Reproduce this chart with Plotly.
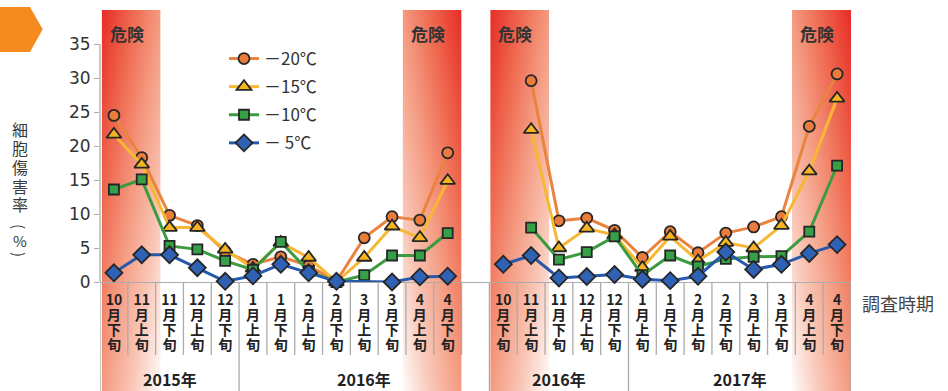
import base64
import plotly.graph_objects as go

# ---- data -------------------------------------------------------------
periods = ["10月下旬", "11月上旬", "11月下旬", "12月上旬", "12月下旬",
           "1月上旬", "1月下旬", "2月上旬", "2月下旬", "3月上旬",
           "3月下旬", "4月上旬", "4月下旬"]

series_names = ["－20℃", "－15℃", "－10℃", "－ 5℃"]

# 2015-2016 season
m20_a = [24.5, 18.3, 9.8, 8.3, 4.5, 2.6, 3.7, 2.4, 0.1, 6.5, 9.6, 9.1, 19.0]
m15_a = [21.7, 17.3, 8.0, 8.0, 4.8, 2.0, 5.8, 3.6, 0.0, 3.6, 8.2, 6.5, 14.9]
m10_a = [13.6, 15.1, 5.3, 4.8, 3.1, 1.8, 5.9, 1.6, 0.0, 1.0, 3.9, 3.9, 7.2]
m5_a = [1.35, 4.0, 4.0, 2.1, 0.1, 0.9, 2.6, 1.35, 0.1, None, 0.0, 0.75, 0.85]

# 2016-2017 season
m20_b = [None, 29.6, 9.0, 9.4, 7.6, 3.6, 7.4, 4.3, 7.2, 8.1, 9.6, 22.9, 30.6]
m15_b = [None, 22.4, 5.0, 7.9, 6.9, 2.1, 6.7, 3.1, 5.8, 5.0, 8.3, 16.3, 27.0]
m10_b = [None, 8.0, 3.3, 4.4, 6.7, 1.0, 3.9, 2.3, 3.4, 3.7, 3.8, 7.4, 17.1]
m5_b = [2.6, 3.9, 0.6, 0.8, 1.1, 0.4, 0.2, 0.85, 4.4, 1.85, 2.6, 4.2, 5.5]

year_labels = ["2015年", "2016年", "2016年", "2017年"]
y_ticks = [0, 5, 10, 15, 20, 25, 30, 35]

# ---- geometry ---------------------------------------------------------
W, H = 948, 391
ML, MR, MT, MB = 100, 97, 10, 109
PW, PH = W - ML - MR, H - MT - MB
AXIS_Y = H - MB


def paper_x(px):
    return (px - ML) / PW


def paper_y(py):
    return (AXIS_Y - py) / PH


BOTTOM = paper_y(H)
CELL_BOTTOM = paper_y(355)

# two seasons share one axis, separated by an empty slot
x_a = list(range(len(periods)))
x_b = [len(periods) + 1 + i for i in range(len(periods))]
n_slots = len(periods) * 2 + 1

tick_vals = x_a + x_b
tick_text = []
for p in periods + periods:
    parts = [p[:-3], p[-3], p[-2], p[-1]]
    tick_text.append("<br>".join(
        "<span style='font-size:14px'>%s</span>" % s for s in parts))

styles = [
    dict(line="#e8843f", fill="#ea7d3c", symbol="circle", size=11),
    dict(line="#f7b733", fill="#f6b420", symbol="triangle-up", size=13),
    dict(line="#3c9a41", fill="#35a047", symbol="square", size=10),
    dict(line="#2659ab", fill="#2f62b5", symbol="diamond", size=13),
]
season_values = [(m20_a, m20_b), (m15_a, m15_b), (m10_a, m10_b), (m5_a, m5_b)]

fig = go.Figure()
for name, st, (va, vb) in zip(series_names, styles, season_values):
    for k, (xs, ys) in enumerate(((x_a, va), (x_b, vb))):
        fig.add_trace(go.Scatter(
            x=xs, y=ys, name=name, legendgroup=name, showlegend=(k == 0),
            mode="lines+markers", connectgaps=True, cliponaxis=False,
            line=dict(color=st["line"], width=3),
            marker=dict(symbol=st["symbol"], size=st["size"], color=st["fill"],
                        line=dict(color="#262626", width=1.8)),
        ))

# ---- gradient "danger" bands --------------------------------------------
def band_source(red_left):
    x1, x2 = ("0", "1") if red_left else ("1", "0")
    svg = (
        '<svg xmlns="http://www.w3.org/2000/svg" width="60" height="380" '
        'viewBox="0 0 60 380" preserveAspectRatio="none">'
        '<defs><linearGradient id="g" x1="%s" y1="0" x2="%s" y2="1">'
        '<stop offset="0" stop-color="#e62c27"/>'
        '<stop offset="0.25" stop-color="#ee654c"/>'
        '<stop offset="0.5" stop-color="#f49a80"/>'
        '<stop offset="0.75" stop-color="#f9c6b6"/>'
        '<stop offset="1" stop-color="#fffcfa"/>'
        '</linearGradient></defs>'
        '<rect width="60" height="380" fill="url(#g)"/></svg>' % (x1, x2)
    )
    return "data:image/svg+xml;base64," + base64.b64encode(svg.encode()).decode()


band_w = 2.12
bands = [(-0.44, True), (12.5 - band_w, False),
         (13.53, True), (26.5 - band_w, False)]
images = []
annotations = []
for x0, red_left in bands:
    images.append(dict(
        source=band_source(red_left), xref="x", yref="paper",
        x=x0, y=1.0, sizex=band_w, sizey=1.0 - BOTTOM,
        xanchor="left", yanchor="top", sizing="stretch", layer="below"))
    annotations.append(dict(
        text="危険", xref="x", yref="paper", x=x0, y=paper_y(33),
        xanchor="left", yanchor="middle", xshift=6, showarrow=False,
        font=dict(family="Noto Sans CJK JP", size=17, color="#333333",
                  weight="bold")))

# ---- cell borders under the axis ------------------------------------------
grey = "#ababab"
shapes = []
year_edges = [-0.5, 4.5, 13.5, 18.5, 26.5]
for i in range(n_slots + 1):
    b = i - 0.5
    shapes.append(dict(type="line", xref="x", yref="paper", x0=b, x1=b,
                       y0=0, y1=BOTTOM if b in year_edges else CELL_BOTTOM,
                       line=dict(color=grey, width=1.3), layer="below"))
# value axis line stops at the top tick
shapes.append(dict(type="line", xref="paper", yref="y", x0=0, x1=0,
                   y0=0, y1=y_ticks[-1], line=dict(color=grey, width=1.3),
                   layer="below"))
# orange marker at the corner
pts = [(-1, 7), (30, 7), (42.7, 29.3), (30, 52), (-1, 52)]
path = "M " + " L ".join("%.5f,%.5f" % (paper_x(a), paper_y(b)) for a, b in pts) + " Z"
shapes.append(dict(type="path", xref="paper", yref="paper", path=path,
                   fillcolor="#f58a1f", line=dict(width=0), layer="above"))

# year labels
for label, lo, hi in zip(year_labels, year_edges[:-1], year_edges[1:]):
    annotations.append(dict(
        text=label, xref="x", yref="paper", x=(lo + hi) / 2, y=paper_y(379),
        xanchor="center", yanchor="middle", showarrow=False,
        font=dict(family="Noto Sans CJK JP", size=16, color="#222222",
                  weight="bold")))

# vertical value-axis title
title_font = dict(family="Noto Sans CJK JP", size=14.5, color="#3a3a3a")
annotations.append(dict(
    text="<br>".join("<span style='font-size:16px'>%s</span>" % c for c in "細胞傷害率"),
    xref="paper", yref="paper", x=paper_x(20), y=paper_y(166),
    xanchor="center", yanchor="middle", showarrow=False, font=title_font))
for ch, cy, ang in (("(", 226, 90), ("%", 240, 0), (")", 254, 90)):
    annotations.append(dict(
        text=ch, xref="paper", yref="paper", x=paper_x(20), y=paper_y(cy),
        xanchor="center", yanchor="middle", textangle=ang, showarrow=False,
        font=dict(family="Noto Sans CJK JP", size=15, color="#3a3a3a")))

annotations.append(dict(
    text="調査時期", xref="paper", yref="paper", x=paper_x(898), y=paper_y(303),
    xanchor="center", yanchor="middle", showarrow=False,
    font=dict(family="Noto Sans CJK JP", size=18, color="#444444")))

fig.update_layout(
    width=W, height=H,
    margin=dict(l=ML, r=MR, t=MT, b=MB, pad=0),
    paper_bgcolor="white", plot_bgcolor="rgba(0,0,0,0)",
    showlegend=True,
    legend=dict(x=paper_x(224), y=paper_y(41), xanchor="left", yanchor="top",
                bgcolor="rgba(0,0,0,0)", tracegroupgap=3,
                font=dict(family="Noto Sans CJK JP", size=17, color="#333333")),
    xaxis=dict(range=[-0.5, n_slots - 0.5], tickmode="array",
               tickvals=tick_vals, ticktext=tick_text, tickangle=0,
               ticks="", showgrid=False, zeroline=False,
               showline=True, linecolor=grey, linewidth=1.3,
               layer="below traces", ticklabelstandoff=8,
               tickfont=dict(family="Noto Sans CJK JP", size=11.5,
                             color="#222222", weight="bold")),
    yaxis=dict(range=[0, 40], tickmode="array", tickvals=y_ticks,
               ticks="outside", ticklen=5, tickcolor=grey, tickwidth=1.3,
               showline=False, showgrid=False, zeroline=False,
               layer="below traces",
               tickfont=dict(family="DejaVu Sans", size=17, color="#333333")),
    images=images, shapes=shapes, annotations=annotations,
)

fig.write_html("out.html")
